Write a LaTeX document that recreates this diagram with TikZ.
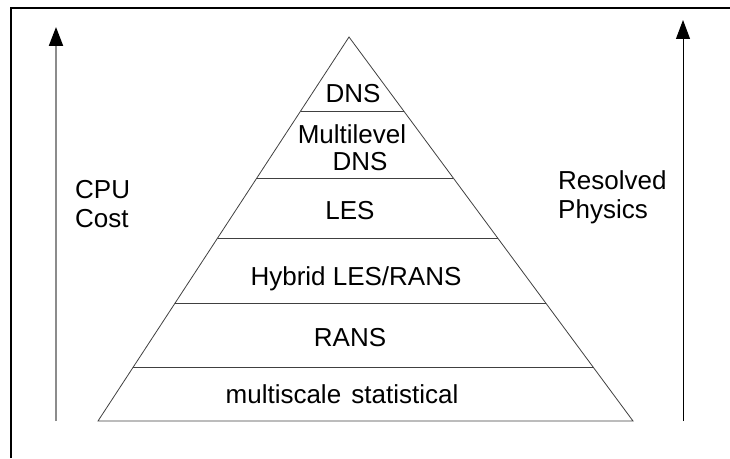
\documentclass[tikz,border=0pt]{standalone}
\usepackage{fontspec}
\setmainfont{Liberation Sans}
\usetikzlibrary{calc,arrows.meta}

\begin{document}
\begin{tikzpicture}[x=1pt, y=1pt]
        \tikzstyle{every node}=[inner sep=0pt, font=\fontsize{26}{29}\selectfont]
        \tikzstyle{layer}=[draw=black!75, line width=0.8pt]
        \tikzstyle{axis}=[line width=1pt, -{Triangle[length=19pt, width=14pt, color=black]}]

        \useasboundingbox (0,0) rectangle (730,458);
        \draw[line width=1.2pt] (11,0) -- (11,450) -- (730,450);

% the pyramid, with the cuts between the levels
        \coordinate (top) at (349,421);
        \coordinate (bl) at (98,37);
        \coordinate (br) at (633,37);
        \draw[layer] (bl) -- (top) -- (br) -- cycle;
        \foreach \t in {0.1406, 0.307, 0.4766, 0.633, 0.807}
            \draw[layer] ($(bl)!\t!(top)$) -- ($(br)!\t!(top)$);

        \node (dns) at (353,364) {DNS};
        \node (multi) at (352,324) {Multilevel};
        \node (mdns) at (360,296) {DNS};
        \node (les) at (350,247) {LES};
        \node (hybrid) at (356,179) {Hybrid LES/RANS};
        \node (rans) at (350,120) {RANS};
        \node (stat) at (342,64) {multiscale\hspace{3pt} statistical};

% the two arrows at the sides
        \coordinate (cpubot) at (56,37);
        \coordinate (cputop) at (56,431);
        \coordinate (resbot) at (683,37);
        \coordinate (restop) at (683,438);
        \draw[axis, draw=black!45, line width=2pt] (cpubot) -- (cputop);
        \draw[axis] (resbot) -- (restop);

        \node[anchor=west, align=left] (cpu) at (75,254) {CPU\\Cost};
        \node[anchor=west, align=left] (res) at (558,261) {Resolved\\Physics};

    \end{tikzpicture}
\end{document}
